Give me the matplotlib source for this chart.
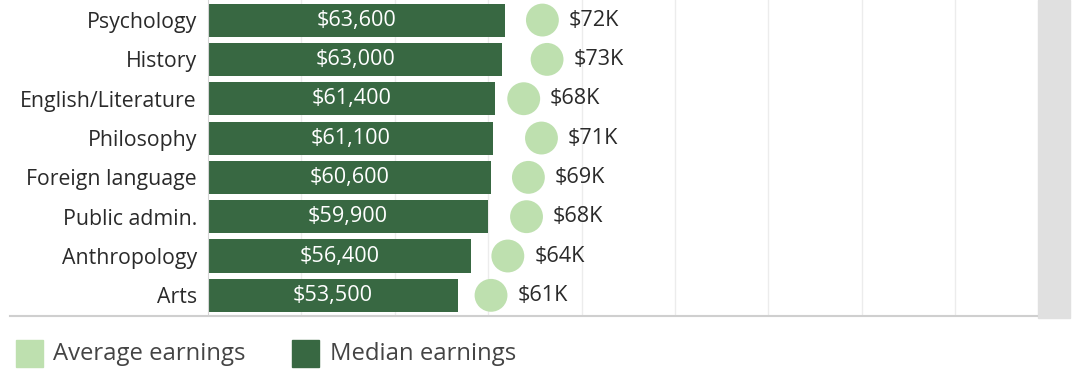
import matplotlib.pyplot as plt
from matplotlib.patches import Rectangle
from matplotlib.lines import Line2D

# Dados do gráfico
majors = ["Psychology", "History", "English/Literature", "Philosophy",
          "Foreign language", "Public admin.", "Anthropology", "Arts"]
median_earnings = [63600, 63000, 61400, 61100, 60600, 59900, 56400, 53500]
average_earnings = [71600, 72600, 67600, 71400, 68600, 68200, 64200, 60600]

DARK = "#386842"
LIGHT = "#bee0af"
TEXT = "#2a2a2a"

plt.rcParams['font.family'] = ['Open Sans', 'DejaVu Sans']

fig = plt.figure(figsize=(10.8, 3.72), dpi=100)
ax = fig.add_axes([208 / 1080, 1 - 315 / 372, (1037 - 208) / 1080, 315 / 372])

ypos = list(range(len(majors)))
ax.barh(ypos, median_earnings, height=0.84, color=DARK, zorder=2)
ax.scatter(average_earnings, ypos, s=560, color=LIGHT, edgecolors='none', zorder=3)

for y, m in zip(ypos, median_earnings):
    ax.text(m / 2, y, f"${m:,}", color="white", ha="center", va="center",
            fontsize=15.6, zorder=4)

for y, a in zip(ypos, average_earnings):
    ax.annotate(f"${round(a / 1000):.0f}K", xy=(a, y), xytext=(19, 0),
                textcoords="offset points", ha="left", va="center",
                fontsize=15.6, color=TEXT, zorder=4)

ax.set_xlim(0, 177500)
ax.set_ylim(7.5, -0.51)
ax.set_xticks(range(20000, 177500, 20000))
ax.grid(axis="x", color="#ececec", linewidth=1, zorder=0)
ax.tick_params(axis="x", length=0, labelbottom=False)
ax.tick_params(axis="y", length=0, pad=8, labelsize=15.3, labelcolor=TEXT)
ax.set_yticks(ypos)
ax.set_yticklabels(majors)
for side in ["top", "right", "bottom"]:
    ax.spines[side].set_visible(False)
ax.spines["left"].set_color("#d4d4d4")

# faixa cinza à direita e linha inferior
fig.add_artist(Rectangle((1038 / 1080, 1 - 318 / 372), 32 / 1080, 318 / 372,
                         transform=fig.transFigure, color="#e0e0e0", zorder=0))
fig.add_artist(Line2D([10 / 1080, 1037 / 1080], [1 - 315.5 / 372] * 2,
                      transform=fig.transFigure, color="#cfcfcf", linewidth=1.5))

# legenda
fig.add_artist(Rectangle((16 / 1080, 1 - 367 / 372), 27 / 1080, 27 / 372,
                         transform=fig.transFigure, color=LIGHT))
fig.text(53 / 1080, 1 - 354 / 372, "Average earnings", fontsize=17.2,
         color="#444444", va="center", ha="left")
fig.add_artist(Rectangle((292 / 1080, 1 - 367 / 372), 27 / 1080, 27 / 372,
                         transform=fig.transFigure, color=DARK))
fig.text(330 / 1080, 1 - 354 / 372, "Median earnings", fontsize=17.2,
         color="#444444", va="center", ha="left")

plt.savefig("out.png", dpi=100)
plt.close()
